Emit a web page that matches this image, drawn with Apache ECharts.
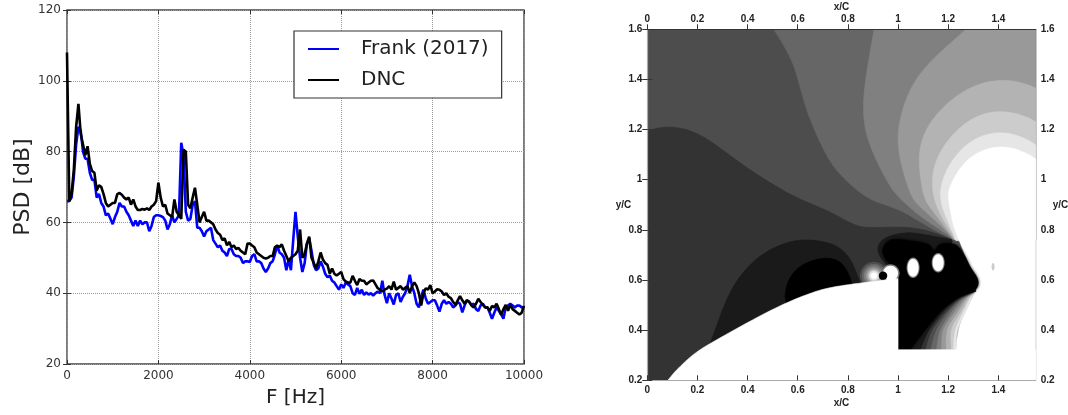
<!DOCTYPE html>
<html><head><meta charset="utf-8">
<style>html,body{margin:0;padding:0;background:#fff}#c{width:1068px;height:415px}</style>
<script src="https://cdn.jsdelivr.net/npm/echarts@6/dist/echarts.min.js"></script>
</head><body><div id="c"></div>
<script>
const freqHz=[0,50,100,150,200,250,300,350,400,450,500,550,600,650,700,750,800,850,900,950,1000,1050,1100,1150,1200,1250,1300,1350,1400,1450,1500,1550,1600,1650,1700,1750,1800,1850,1900,1950,2000,2050,2100,2150,2200,2250,2300,2350,2400,2450,2500,2550,2600,2650,2700,2750,2800,2850,2900,2950,3000,3050,3100,3150,3200,3250,3300,3350,3400,3450,3500,3550,3600,3650,3700,3750,3800,3850,3900,3950,4000,4050,4100,4150,4200,4250,4300,4350,4400,4450,4500,4550,4600,4650,4700,4750,4800,4850,4900,4950,5000,5050,5100,5150,5200,5250,5300,5350,5400,5450,5500,5550,5600,5650,5700,5750,5800,5850,5900,5950,6000,6050,6100,6150,6200,6250,6300,6350,6400,6450,6500,6550,6600,6650,6700,6750,6800,6850,6900,6950,7000,7050,7100,7150,7200,7250,7300,7350,7400,7450,7500,7550,7600,7650,7700,7750,7800,7850,7900,7950,8000,8050,8100,8150,8200,8250,8300,8350,8400,8450,8500,8550,8600,8650,8700,8750,8800,8850,8900,8950,9000,9050,9100,9150,9200,9250,9300,9350,9400,9450,9500,9550,9600,9650,9700,9750,9800,9850,9900,9950,10000];
const frankPsd=[66,66,67,73,82,87,86,80,78,78,
74,72,72,67,68,65.5,64.5,62,62.5,61,
59.5,61.5,63,65.5,64.5,64.5,63,62,60.5,59,
60.5,59,60.5,59.5,60,60,57.5,59,61.5,62,
62,61.8,61.5,60.5,58,59.5,62,60,61,62,
82.5,79,63,60.5,61,65,66,58.5,58.5,57.5,
56,57.5,58,58.5,55,54,53,53.5,52,51.5,
50.5,52.5,52.5,51,50.5,50.5,50,48.5,49,49,
48.8,50.5,51,49,49,48.5,47,46,47,48.5,
49,51,53.5,51.5,51,50,46.5,49.5,46.5,55,
63,56,50,46,48.5,54,55.5,52,48,46.5,
47,49,47.5,45.5,44.5,45,43.5,43,42,41,
42.5,41.5,43,42.5,42,40,39.5,41.5,39.8,41,
39.5,40.2,39.6,40,39.3,40,40.5,40,43.5,39.5,
37.2,40,38.5,36.8,39.5,40,37.5,39,40,42,
45.2,42,40,37,36,39,41,38.5,37,37.5,
38,38,36.5,34.8,37,38,37,37.5,37,36,
36.5,37.5,37,34.6,36.5,38,37.5,36.8,37,35.5,
35,36.5,37,36,36,34.5,32.8,34.5,36,35,
34,32.8,36,36.5,37,36.5,36,36.5,36.5,36,
36];
const dncPsd=[108,66,68,75,87,93.5,85,82,79,81.5,
76.5,74.5,74,69,70.5,70,68,65.5,64.5,65,
65.5,65.5,68,68.3,67.8,67,66.5,67,65,66.5,
64.5,63.5,63.5,63.8,63.6,64,63.5,64.5,65,66,
71.2,67,64.5,65,62.5,62,61.5,66.5,63,62,
61,80.5,80,65,64,67,69.8,65,60,61.5,
63,60.5,60.5,60,59.5,58,57,56.5,55,55.5,
53.5,54.5,53,53.5,52.5,52.8,52,51.5,51,54,
54,53.5,53,51.5,51,50.5,50,49.8,50,50.5,
50.5,53,53.5,53,53.8,52,50.5,49,50,50.5,
51,52,58,50,51,54,56,50,48.5,47,
49,51.5,49.5,48.5,48,45.5,47,45.5,45,45.5,
46,44,43.3,43,43,44.9,43.5,42.3,44,43.5,
43.5,42.5,43,43.5,43.6,42.5,41.4,41,40.5,41,
41.3,42,41,43.3,41,41.5,42,41,41.5,42,
40,42,43,42,40,36.5,40,41.4,41,42.3,
40,40.5,41.1,41,40.5,39.5,40,39,38.6,37.5,
36.7,38,39.2,38,37,38,37.6,36.5,36,37,
38.4,37.5,36.7,36,36,35,36.4,36,37,35.5,
33.9,35.5,36.7,35,36.7,35.5,35,34.5,34,34.5,
36.4];
const cXTicks=[0,0.2,0.4,0.6,0.8,1,1.2,1.4];
const cYTicks=[0.2,0.4,0.6,0.8,1,1.2,1.4,1.6];

// Contour boundaries in x/C, y/C
const c66=[[.503,1.6],[.556,1.518],[.596,1.426],[.621,1.318],[.661,1.211],[.716,1.091],[.769,1.019],[.856,.94],[.92,.908],[.988,.888],[1.056,.852],[1.12,.812],[1.188,.777],[1.215,.761]];
const c80=[[.904,1.6],[.888,1.506],[.868,1.386],[.859,1.266],[.88,1.147],[.94,1.027],[.98,.952],[1.028,.908],[1.056,.88],[1.12,.832],[1.188,.788],[1.215,.764]];
const c99=[[1.271,1.6],[1.179,1.518],[1.088,1.43],[1.028,1.318],[.996,1.187],[1.008,1.079],[1.048,.94],[1.08,.9],[1.136,.848],[1.188,.8],[1.219,.769]];
const cB3=[[1.549,1.366],[1.487,1.39],[1.419,1.398],[1.327,1.386],[1.235,1.338],[1.14,1.251],[1.088,1.147],[1.084,1.051],[1.1,.94],[1.12,.9],[1.16,.848],[1.2,.792],[1.223,.761]];
const cCC=[[1.549,1.231],[1.487,1.262],[1.407,1.274],[1.315,1.258],[1.219,1.187],[1.156,1.091],[1.136,1.012],[1.14,.94],[1.156,.892],[1.179,.84],[1.215,.788],[1.227,.761]];
const cE6=[[1.549,1.139],[1.487,1.175],[1.407,1.191],[1.315,1.171],[1.235,1.107],[1.179,1.012],[1.168,.94],[1.176,.892],[1.196,.84],[1.219,.788],[1.231,.757]];
const cWhite=[[1.549,1.083],[1.487,1.119],[1.407,1.135],[1.315,1.111],[1.247,1.051],[1.207,.972],[1.199,.94],[1.207,.888],[1.219,.82],[1.239,.769],[1.259,.721],[1.287,.653],[1.315,.609],[1.319,.581],[1.307,.549],[1.287,.514],[1.259,.454],[1.239,.402],[1.231,.322]];
const c33=[[0,1.191],[.037,1.207],[.102,1.211],[.182,1.195],[.262,1.147],[.343,1.087],[.439,1.019],[.531,.964],[.611,.92],[.712,.88],[.764,.852],[.832,.816],[.884,.808],[.988,.812],[1.068,.808],[1.148,.788],[1.215,.761]];
const lobe1A=[[.25,.346],[.282,.43],[.322,.541],[.382,.633],[.461,.708],[.557,.751],[.637,.763],[.709,.751],[.749,.739],[.789,.711],[.817,.671],[.837,.619],[.848,.595]];
const lobe00=[[.553,.514],[.549,.561],[.577,.629],[.637,.673],[.709,.689],[.757,.681],[.789,.653],[.809,.609],[.817,.581]];
const ring1A=[[1.215,.761],[1.148,.773],[1.068,.788],[1.028,.788],[.976,.78],[.936,.761],[.916,.729],[.928,.689],[.956,.661],[.992,.609]];
const blob00=[[1,.605],[.976,.653],[.948,.689],[.94,.721],[.96,.753],[.996,.761],[1.068,.753],[1.12,.741],[1.144,.717],[1.168,.741],[1.207,.745],[1.239,.733],[1.267,.693],[1.287,.653],[1.315,.609],[1.319,.581],[1.307,.561],[1.287,.549],[1.239,.53],[1.176,.482],[1.108,.402],[1.048,.322]];
const fanE6=[[1.231,.322],[1.239,.402],[1.274,.482],[1.295,.53],[1.311,.557]];
const fanCC=[[1.219,.322],[1.227,.402],[1.263,.482],[1.287,.53],[1.311,.557]];
const fanB3=[[1.211,.322],[1.211,.402],[1.255,.482],[1.283,.53],[1.311,.557]];
const fan99=[[1.191,.322],[1.195,.402],[1.243,.482],[1.275,.53],[1.311,.557]];
const fan80=[[1.171,.322],[1.179,.402],[1.231,.482],[1.271,.53],[1.311,.557]];
const fan66=[[1.151,.322],[1.168,.402],[1.219,.482],[1.263,.53],[1.311,.557]];
const fan4D=[[1.128,.322],[1.152,.402],[1.207,.482],[1.259,.53],[1.311,.557]];
const fan33=[[1.108,.322],[1.136,.402],[1.199,.482],[1.251,.53],[1.311,.557]];
const fan1A=[[1.088,.322],[1.124,.402],[1.187,.482],[1.247,.53],[1.311,.557]];
const wing=[[.082,.2],[.142,.27],[.21,.322],[.25,.346],[.398,.43],[.553,.51],[.637,.541],[.689,.561],[.769,.577],[.86,.589],[.988,.605],[1,.605]];
const cornerTR=[[1.549,.76],[1.549,1.6]], cornerR=[[1.549,.76]];
const fanClose=[[1,.56],[1,.322]];

const polys=[
 {fill:'#4d4d4d',curve:[[0,.2],[0,1.6]],close:[[1.549,1.6],[1.549,.2]],straight:true},
 {fill:'#666666',curve:c66,close:cornerTR,soft:true},
 {fill:'#808080',curve:c80,close:cornerTR,soft:true},
 {fill:'#999999',curve:c99,close:cornerTR,soft:true},
 {fill:'#b3b3b3',curve:cB3,close:cornerR,soft:true},
 {fill:'#cccccc',curve:cCC,close:cornerR,soft:true},
 {fill:'#e6e6e6',curve:cE6,close:cornerR,soft:true},
 {fill:'#333333',curve:c33,close:[[1.215,.45],[1,.2],[0,.2]],soft:true},
 {fill:'#1a1a1a',curve:lobe1A,close:[[.848,.5],[.25,.3]],soft:true},
 {fill:'#000000',curve:lobe00,close:[[.817,.5],[.553,.45]],soft:true},
 {fill:'#1a1a1a',curve:ring1A,close:[[1.2,.5]],soft:true},
 {fill:'#ffffff',curve:cWhite,close:[[1.231,.2],[1.549,.2]],soft:true},
 {fill:'#e6e6e6',curve:fanE6,close:fanClose},
 {fill:'#cccccc',curve:fanCC,close:fanClose},
 {fill:'#b3b3b3',curve:fanB3,close:fanClose},
 {fill:'#999999',curve:fan99,close:fanClose},
 {fill:'#808080',curve:fan80,close:fanClose},
 {fill:'#666666',curve:fan66,close:fanClose},
 {fill:'#4d4d4d',curve:fan4D,close:fanClose},
 {fill:'#333333',curve:fan33,close:fanClose},
 {fill:'#1a1a1a',curve:fan1A,close:fanClose},
 {fill:'#000000',curve:blob00,close:[[1,.322]],blur:3},
];
// cx, cy, rx, ry, grey
const spots=[
 [.904,.617,.056,.056,'#4d4d4d'],[.904,.617,.048,.048,'#666666'],[.904,.617,.04,.04,'#808080'],[.904,.617,.032,.032,'#999999'],
 [.904,.617,.026,.026,'#b3b3b3'],[.904,.617,.022,.022,'#cccccc'],[.904,.617,.018,.018,'#e6e6e6'],[.904,.617,.012,.012,'#ffffff'],
 [.97,.627,.036,.036,'#808080'],[.97,.627,.03,.03,'#ffffff'],[.94,.617,.017,.017,'#000000'],
 [1.06,.649,.026,.041,'#808080'],[1.06,.649,.022,.036,'#ffffff'],
 [1.16,.669,.026,.039,'#808080'],[1.16,.669,.022,.034,'#ffffff'],
 [1.379,.653,.006,.015,'#cccccc'],
];
const wingLayer={fill:'#ffffff',curve:wing,close:[[1,.322],[1.549,.322],[1.549,.2]],soft:true};

function spline(p){
  const out=[];
  for(let i=0;i<p.length-1;i++){
    const a=p[Math.max(i-1,0)],b=p[i],c=p[i+1],d=p[Math.min(i+2,p.length-1)];
    for(let k=0;k<8;k++){
      const t=k/8,t2=t*t,t3=t2*t;
      out.push([0,1].map(j=>.5*(2*b[j]+(c[j]-a[j])*t+(2*a[j]-5*b[j]+4*c[j]-d[j])*t2+(3*b[j]-a[j]-3*c[j]+d[j])*t3)));
    }
  }
  out.push(p[p.length-1]);
  return out;
}
// Rendering only: takes the corners out of the traced outline, ends stay fixed
function soften(pts,w){
  return pts.map((q,i)=>{
    const r=Math.min(w,i,pts.length-1-i);
    let x=0,y=0;
    for(let k=i-r;k<=i+r;k++){x+=pts[k][0];y+=pts[k][1];}
    return [x/(2*r+1),y/(2*r+1)];
  });
}
const layers=polys.map(p=>({k:'p',p})).concat(spots.map(s=>({k:'s',s})),[{k:'p',p:wingLayer}]);
function renderLayer(params,api){
  const l=layers[params.dataIndex];
  if(l.k==='p'){
    const p=l.p, cp=p.curve.map(q=>api.coord(q));
    let line=p.straight?cp:spline(cp);
    if(p.soft) line=soften(line,6);
    const pts=line.concat(p.close.map(q=>api.coord(q)));
    const st={fill:p.fill,stroke:p.fill,lineWidth:.6};
    if(p.blur){st.shadowBlur=p.blur;st.shadowColor='#000';}
    return {type:'polygon',shape:{points:pts},style:st};
  }
  const s=l.s,c=api.coord([s[0],s[1]]),z=api.size([s[2],s[3]]);
  return {type:'ellipse',shape:{cx:c[0],cy:c[1],rx:z[0],ry:z[1]},style:{fill:s[4]}};
}
const fmtC=v=>String(+(+v).toFixed(1));
const lab={fontFamily:'Liberation Sans',fontSize:10,fontWeight:'bold',color:'#222',margin:5};
const nm={fontFamily:'Liberation Sans',fontSize:10,fontWeight:'bold',color:'#222',width:30,overflow:'none'};
const tickDark={lineStyle:{color:'#333',width:1},length:5};
const FONT='DejaVu Sans';
const pLab={fontFamily:FONT,fontSize:12,color:'#333',margin:6,formatter:v=>String(v)};
const pTick={inside:true,length:4,lineStyle:{color:'#333',width:1}};
const pGrid={show:true,lineStyle:{type:'dotted',color:'#999',width:1}};
const chart=echarts.init(document.getElementById('c'),null,{renderer:'canvas'});
chart.setOption({
 animation:false,backgroundColor:'#fff',
 grid:[
  {left:67,top:10,width:457,height:354,show:true,borderColor:'#444',borderWidth:1.4,backgroundColor:'transparent',outerBoundsMode:'none'},
  {left:647.3,top:29.3,width:388.4,height:351,show:false,outerBoundsMode:'none'}
 ],
 legend:{data:['Frank (2017)','DNC'],orient:'vertical',left:294,top:31,icon:'rect',itemWidth:31,itemHeight:2,itemGap:11,
  padding:[8,13,8,14],backgroundColor:'#fff',borderColor:'#333',borderWidth:1.2,borderRadius:0,
  textStyle:{fontFamily:FONT,fontSize:20,lineHeight:20,color:'#222',padding:[0,0,0,17]},z:10},
 xAxis:[
  {gridIndex:0,type:'value',min:0,max:10000,interval:2000,name:'F [Hz]',nameLocation:'middle',nameGap:24,
   nameTextStyle:{fontFamily:FONT,fontSize:20,color:'#222'},axisLine:{show:false},axisTick:pTick,axisLabel:pLab,splitLine:pGrid},
  {gridIndex:0,type:'value',position:'top',min:0,max:10000,interval:2000,axisLine:{show:false},axisTick:pTick,axisLabel:{show:false},splitLine:{show:false}},
  {gridIndex:1,type:'value',position:'bottom',min:0,max:1.549,name:'x/C',nameLocation:'middle',nameMoveOverlap:false,nameGap:18,nameTextStyle:nm,z:5,
   axisLine:{lineStyle:{color:'#aaa',width:1.2}},axisTick:{inside:true,length:5,lineStyle:{color:'#333'},customValues:cXTicks},
   axisLabel:{...lab,formatter:fmtC,customValues:cXTicks},splitLine:{show:false}},
  {gridIndex:1,type:'value',position:'top',min:0,max:1.549,name:'x/C',nameLocation:'middle',nameMoveOverlap:false,nameGap:17,nameTextStyle:nm,z:5,
   axisLine:{lineStyle:{color:'#333',width:1.2}},axisTick:{...tickDark,customValues:cXTicks},
   axisLabel:{...lab,formatter:fmtC,customValues:cXTicks},splitLine:{show:false}}
 ],
 yAxis:[
  {gridIndex:0,type:'value',min:20,max:120,interval:20,name:'PSD [dB]',nameLocation:'middle',nameGap:31,
   nameTextStyle:{fontFamily:FONT,fontSize:22,color:'#222'},axisLine:{show:false},axisTick:pTick,axisLabel:pLab,splitLine:pGrid},
  {gridIndex:0,type:'value',position:'right',min:20,max:120,interval:20,axisLine:{show:false},axisTick:pTick,axisLabel:{show:false},splitLine:{show:false}},
  {gridIndex:1,type:'value',position:'left',min:0.2,max:1.6,name:'y/C',nameLocation:'middle',nameMoveOverlap:false,nameRotate:0,nameGap:16,nameTextStyle:nm,z:5,
   axisLine:{lineStyle:{color:'#333',width:1}},axisTick:{...tickDark,customValues:cYTicks},
   axisLabel:{...lab,formatter:fmtC,customValues:cYTicks},splitLine:{show:false}},
  {gridIndex:1,type:'value',position:'right',min:0.2,max:1.6,name:'y/C',nameLocation:'middle',nameMoveOverlap:false,nameRotate:0,nameGap:17,nameTextStyle:nm,z:5,
   axisLine:{lineStyle:{color:'#aaa',width:1.2}},axisTick:{...tickDark,customValues:cYTicks},
   axisLabel:{...lab,formatter:fmtC,customValues:cYTicks},splitLine:{show:false}}
 ],
 series:[
  {name:'Frank (2017)',type:'line',xAxisIndex:0,yAxisIndex:0,showSymbol:false,symbol:'none',data:freqHz.map((f,i)=>[f,frankPsd[i]]),lineStyle:{color:'#0000ff',width:2.6},itemStyle:{color:'#0000ff'},clip:true},
  {name:'DNC',type:'line',xAxisIndex:0,yAxisIndex:0,showSymbol:false,symbol:'none',data:freqHz.map((f,i)=>[f,dncPsd[i]]),lineStyle:{color:'#000',width:2.6},itemStyle:{color:'#000'},clip:true},
  {type:'custom',xAxisIndex:2,yAxisIndex:2,clip:true,silent:true,renderItem:renderLayer,
   data:layers.map(l=>l.k==='p'?l.p.curve[0]:[l.s[0],l.s[1]])}
 ]
});
</script></body></html>
